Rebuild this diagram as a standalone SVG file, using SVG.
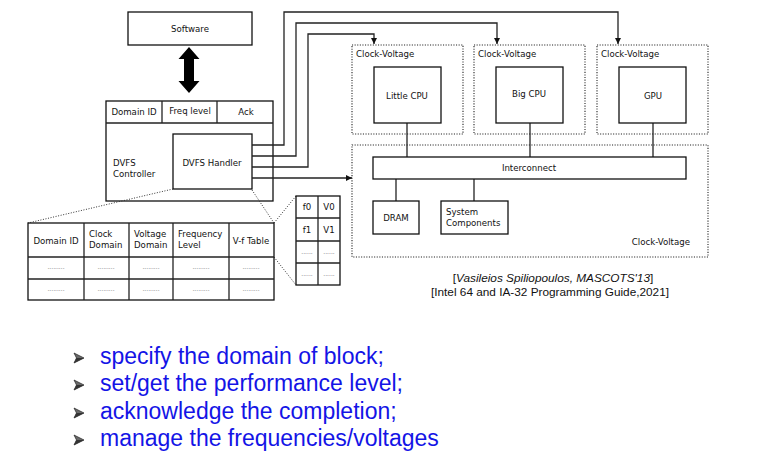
<svg xmlns="http://www.w3.org/2000/svg" width="772" height="460" viewBox="0 0 772 460">
<defs>
<style>
.t{font-family:"DejaVu Sans",sans-serif;font-size:8.6px;fill:#111}
.m{text-anchor:middle}
.box{fill:#fff;stroke:#111;stroke-width:1.3}
.dot{fill:none;stroke:#222;stroke-width:1.1;stroke-dasharray:1.1 1.5}
.wire{fill:none;stroke:#222;stroke-width:1.3}
.dl{fill:none;stroke:#333;stroke-width:1;stroke-dasharray:1 1.6}
.g{font-family:"DejaVu Sans",sans-serif;font-size:6px;fill:#666;text-anchor:middle}
.b{font-family:"Liberation Sans",Arial,sans-serif;font-size:23px;fill:#1414e6}
.c{font-family:"Liberation Sans",Arial,sans-serif;font-size:11.8px;fill:#111;text-anchor:middle}
</style>
<marker id="ah" viewBox="0 0 6 6" refX="6" refY="3" markerWidth="6" markerHeight="6" markerUnits="userSpaceOnUse" orient="auto">
<path d="M0,0 L6,3 L0,6 Z" fill="#111"/>
</marker>
<g id="bul"><path d="M0,-5 L10,0 L0,5 L2.5,0 Z" fill="#6a6a6a" stroke="#222" stroke-width="0.7"/><path d="M2.5,0 L10,0 L0,5 Z" fill="#333"/></g>
</defs>
<rect width="772" height="460" fill="#fff"/>

<g id="software">
<rect class="box" x="128" y="12" width="124" height="33"/>
<text class="t m" x="190" y="31.5">Software</text>
</g>

<g id="bidir">
<path d="M189,47 L199.5,59 L194,59 L194,81 L199.5,81 L189,93 L178.5,81 L184,81 L184,59 L178.5,59 Z" fill="#000"/>
</g>

<g id="dvfs-controller">
<rect class="box" x="106" y="101" width="167" height="100"/>
<line class="wire" x1="106" y1="123" x2="273" y2="123"/>
<line class="wire" x1="162" y1="101" x2="162" y2="123"/>
<line class="wire" x1="217" y1="101" x2="217" y2="123"/>
<text class="t m" x="134" y="115">Domain ID</text>
<text class="t m" x="190" y="114">Freq level</text>
<text class="t m" x="246" y="115">Ack</text>
<text class="t" x="113" y="166">DVFS</text>
<text class="t" x="113" y="177">Controller</text>
</g>

<g id="dvfs-handler">
<rect class="box" x="173" y="134" width="79" height="55"/>
<text class="t m" x="212" y="166">DVFS Handler</text>
</g>

<g id="connectors">
<polyline class="wire" points="252,145 284,145 284,12 618,12 618,44" marker-end="url(#ah)"/>
<polyline class="wire" points="252,156 296,156 296,23 497,23 497,44" marker-end="url(#ah)"/>
<polyline class="wire" points="252,167 308,167 308,34 374,34 374,44" marker-end="url(#ah)"/>
<polyline class="wire" points="252,178 352,178" marker-end="url(#ah)"/>
<line class="wire" x1="407" y1="123" x2="407" y2="157"/>
<line class="wire" x1="530" y1="123" x2="530" y2="157"/>
<line class="wire" x1="653" y1="123" x2="653" y2="157"/>
<line class="wire" x1="396" y1="179" x2="396" y2="201"/>
<line class="wire" x1="474" y1="179" x2="474" y2="201"/>
<line class="dl" x1="173" y1="189" x2="28" y2="223"/>
<line class="dl" x1="252" y1="190" x2="274" y2="223"/>
<line class="dl" x1="274" y1="223" x2="296" y2="196"/>
<line class="dl" x1="274" y1="257" x2="296" y2="285"/>
</g>

<g id="cv-little">
<rect class="dot" x="352" y="45" width="111" height="89"/>
<text class="t" x="356" y="57">Clock-Voltage</text>
</g>
<g id="cv-big">
<rect class="dot" x="474" y="45" width="111" height="89"/>
<text class="t" x="478" y="57">Clock-Voltage</text>
</g>
<g id="cv-gpu">
<rect class="dot" x="597" y="45" width="111" height="89"/>
<text class="t" x="601" y="57">Clock-Voltage</text>
</g>

<g id="little-cpu">
<rect class="box" x="374" y="67" width="67" height="56"/>
<text class="t m" x="407" y="99">Little CPU</text>
</g>
<g id="big-cpu">
<rect class="box" x="496" y="67" width="67" height="56"/>
<text class="t m" x="529" y="97">Big CPU</text>
</g>
<g id="gpu">
<rect class="box" x="619" y="67" width="67" height="56"/>
<text class="t m" x="653" y="99">GPU</text>
</g>

<g id="cv-system">
<rect class="dot" x="352" y="145" width="356" height="112"/>
<text class="t" x="690" y="245" text-anchor="end">Clock-Voltage</text>
</g>

<g id="interconnect">
<rect class="box" x="373" y="157" width="313" height="22"/>
<text class="t m" x="529" y="170.5">Interconnect</text>
</g>

<g id="dram">
<rect class="box" x="373" y="201" width="46" height="33"/>
<text class="t m" x="396" y="221">DRAM</text>
</g>

<g id="system-components">
<rect class="box" x="441" y="201" width="67" height="33"/>
<text class="t" x="446" y="215">System</text>
<text class="t" x="446" y="225.5">Components</text>
</g>

<g id="domain-table">
<rect class="box" x="28" y="223" width="246" height="77"/>
<line class="wire" x1="28" y1="257" x2="274" y2="257"/>
<line class="wire" x1="28" y1="279" x2="274" y2="279"/>
<line class="wire" x1="84" y1="223" x2="84" y2="300"/>
<line class="wire" x1="129" y1="223" x2="129" y2="300"/>
<line class="wire" x1="173" y1="223" x2="173" y2="300"/>
<line class="wire" x1="229" y1="223" x2="229" y2="300"/>
<text class="t m" x="56" y="244">Domain ID</text>
<text class="t" x="89" y="237">Clock</text>
<text class="t" x="89" y="248">Domain</text>
<text class="t" x="134" y="237">Voltage</text>
<text class="t" x="134" y="248">Domain</text>
<text class="t" x="178" y="237">Frequency</text>
<text class="t" x="178" y="248">Level</text>
<text class="t m" x="251" y="244">V-f Table</text>
<text class="g" x="56" y="269">.........</text>
<text class="g" x="106" y="269">.........</text>
<text class="g" x="151" y="269">.........</text>
<text class="g" x="201" y="269">.........</text>
<text class="g" x="251" y="269">.........</text>
<text class="g" x="56" y="291">.........</text>
<text class="g" x="106" y="291">.........</text>
<text class="g" x="151" y="291">.........</text>
<text class="g" x="201" y="291">.........</text>
<text class="g" x="251" y="291">.........</text>
</g>

<g id="vf-table">
<rect class="box" x="296" y="196" width="44" height="89"/>
<line class="wire" x1="318" y1="196" x2="318" y2="285"/>
<line class="wire" x1="296" y1="218" x2="340" y2="218"/>
<line class="wire" x1="296" y1="241" x2="340" y2="241"/>
<line class="wire" x1="296" y1="263" x2="340" y2="263"/>
<text class="t m" x="307" y="210">f0</text>
<text class="t m" x="329" y="210">V0</text>
<text class="t m" x="307" y="233">f1</text>
<text class="t m" x="329" y="233">V1</text>
<text class="g" x="307" y="254">......</text>
<text class="g" x="329" y="254">......</text>
<text class="g" x="307" y="276">......</text>
<text class="g" x="329" y="276">......</text>
</g>

<g id="citation">
<text class="c" x="553" y="282">[<tspan font-style="italic">Vasileios Spiliopoulos, MASCOTS'13</tspan>]</text>
<text class="c" x="550" y="296">[Intel 64 and IA-32 Programming Guide,2021]</text>
</g>

<g id="bullets">
<use href="#bul" x="74" y="358"/>
<use href="#bul" x="74" y="385"/>
<use href="#bul" x="74" y="413"/>
<use href="#bul" x="74" y="440"/>
<text class="b" x="100" y="364">specify the domain of block;</text>
<text class="b" x="100" y="391">set/get the performance level;</text>
<text class="b" x="100" y="419">acknowledge the completion;</text>
<text class="b" x="100" y="446">manage the frequencies/voltages</text>
</g>
</svg>
